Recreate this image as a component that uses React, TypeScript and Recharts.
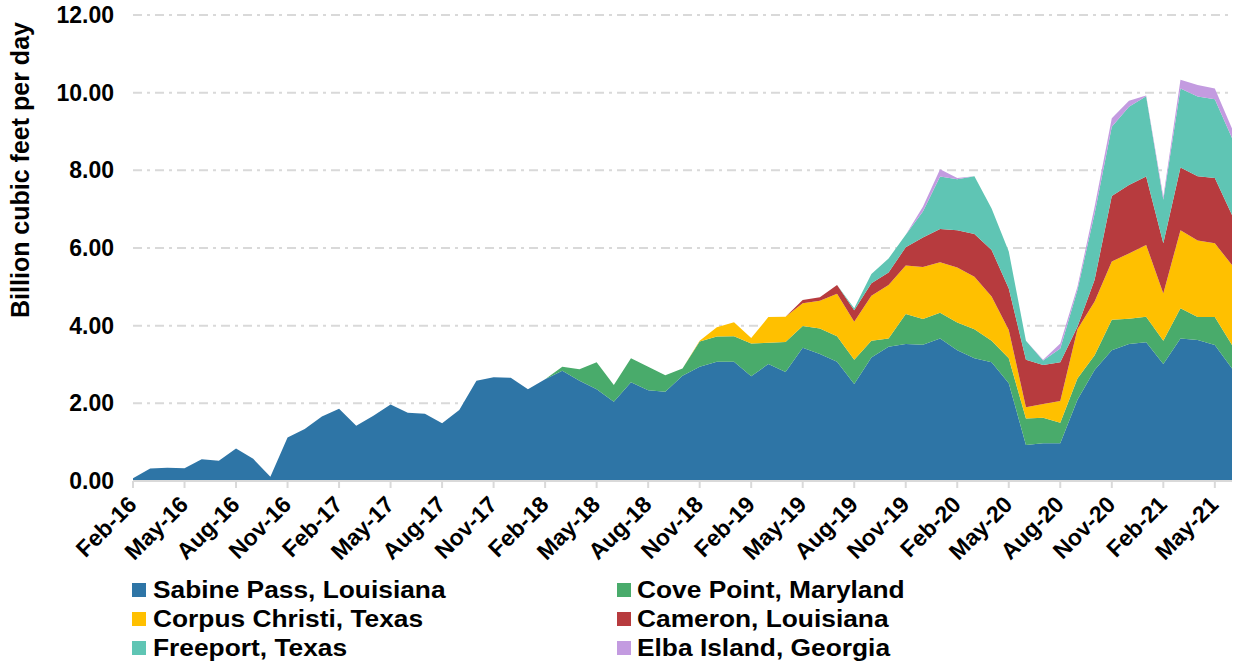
import React from "react";
import { AreaChart, Area, XAxis, YAxis, CartesianGrid, Legend } from "recharts";

const months = [
  "Feb-16","Mar-16","Apr-16","May-16","Jun-16","Jul-16","Aug-16","Sep-16","Oct-16","Nov-16","Dec-16",
  "Jan-17","Feb-17","Mar-17","Apr-17","May-17","Jun-17","Jul-17","Aug-17","Sep-17","Oct-17","Nov-17","Dec-17",
  "Jan-18","Feb-18","Mar-18","Apr-18","May-18","Jun-18","Jul-18","Aug-18","Sep-18","Oct-18","Nov-18","Dec-18",
  "Jan-19","Feb-19","Mar-19","Apr-19","May-19","Jun-19","Jul-19","Aug-19","Sep-19","Oct-19","Nov-19","Dec-19",
  "Jan-20","Feb-20","Mar-20","Apr-20","May-20","Jun-20","Jul-20","Aug-20","Sep-20","Oct-20","Nov-20","Dec-20",
  "Jan-21","Feb-21","Mar-21","Apr-21","May-21","Jun-21",
];

const sabinePass = [
  0.07,0.32,0.34,0.33,0.56,0.52,0.84,0.57,0.11,1.12,1.34,
  1.66,1.86,1.42,1.68,1.97,1.76,1.73,1.49,1.83,2.58,2.67,2.66,
  2.36,2.62,2.84,2.58,2.36,2.04,2.54,2.34,2.30,2.71,2.94,3.07,
  3.07,2.70,3.01,2.81,3.43,3.27,3.07,2.50,3.18,3.46,3.53,3.51,
  3.67,3.37,3.16,3.06,2.52,0.93,0.97,0.97,2.09,2.86,3.37,3.53,
  3.57,3.01,3.67,3.63,3.50,2.90,
];

const covePoint = [
  0,0,0,0,0,0,0,0,0,0,0,
  0,0,0,0,0,0,0,0,0,0,0,0,
  0,0,0.10,0.30,0.70,0.43,0.62,0.60,0.42,0.19,0.65,0.65,
  0.66,0.84,0.55,0.77,0.56,0.66,0.66,0.62,0.43,0.21,0.77,0.66,
  0.66,0.71,0.75,0.55,0.64,0.68,0.66,0.53,0.55,0.38,0.78,0.65,
  0.66,0.60,0.78,0.59,0.72,0.60,
];

const corpusChristi = [
  0,0,0,0,0,0,0,0,0,0,0,
  0,0,0,0,0,0,0,0,0,0,0,0,
  0,0,0,0,0,0,0,0,0,0,0.02,0.24,
  0.36,0.14,0.66,0.65,0.59,0.71,1.09,0.98,1.16,1.38,1.25,1.34,
  1.30,1.42,1.35,1.14,0.73,0.29,0.35,0.56,1.27,1.38,1.50,1.68,
  1.85,1.22,2.01,1.97,1.90,2.06,
];

const cameron = [
  0,0,0,0,0,0,0,0,0,0,0,
  0,0,0,0,0,0,0,0,0,0,0,0,
  0,0,0,0,0,0,0,0,0,0,0,0,
  0,0,0,0,0.08,0.09,0.23,0.30,0.32,0.32,0.47,0.76,
  0.86,0.96,1.10,1.20,1.07,1.22,1.01,1.00,0.06,0.56,1.69,1.76,
  1.76,1.29,1.61,1.66,1.68,1.29,
];

const freeport = [
  0,0,0,0,0,0,0,0,0,0,0,
  0,0,0,0,0,0,0,0,0,0,0,0,
  0,0,0,0,0,0,0,0,0,0,0,0,
  0,0,0,0,0,0,0,0.05,0.24,0.36,0.32,0.67,
  1.35,1.31,1.49,1.07,0.95,0.49,0.11,0.35,0.95,1.71,1.78,2.02,
  2.07,1.12,2.04,2.05,2.03,1.98,
];

const elbaIsland = [
  0,0,0,0,0,0,0,0,0,0,0,
  0,0,0,0,0,0,0,0,0,0,0,0,
  0,0,0,0,0,0,0,0,0,0,0,0,
  0,0,0,0,0,0,0,0,0,0,0,0.12,
  0.19,0.03,0,0,0,0,0.02,0.13,0.08,0.17,0.22,0.15,
  0.02,0.08,0.22,0.30,0.28,0.25,
];

const yTicks = [0, 2, 4, 6, 8, 10, 12];

const seriesNames = [
  "Sabine Pass, Louisiana",
  "Cove Point, Maryland",
  "Corpus Christi, Texas",
  "Cameron, Louisiana",
  "Freeport, Texas",
  "Elba Island, Georgia",
];
const seriesKeys = ["sabine", "cove", "corpus", "cameron", "freeport", "elba"];
const seriesColors = ["#2E75A6", "#49AB6B", "#FFC000", "#B73B3E", "#5FC5B4", "#C39BE0"];
const seriesValues = [sabinePass, covePoint, corpusChristi, cameron, freeport, elbaIsland];

const data = months.map((m, i) => {
  const row: Record<string, any> = { month: m };
  seriesKeys.forEach((k, s) => {
    row[k] = seriesValues[s][i];
  });
  return row;
});

const FONT = '"Liberation Sans", Arial, Helvetica, sans-serif';

const XTick = (props: any) => {
  const { x, payload } = props;
  const ax = x + 5;
  const ay = 506;
  return (
    <text
      x={ax}
      y={ay}
      textAnchor="end"
      transform={`rotate(-45 ${ax} ${ay})`}
      fontFamily={FONT}
      fontWeight="bold"
      fontSize={23}
      fill="#000"
    >
      {payload.value}
    </text>
  );
};

const YTick = (props: any) => {
  const { y, payload } = props;
  return (
    <text
      x={114}
      y={y + 8}
      textAnchor="end"
      fontFamily={FONT}
      fontWeight="bold"
      fontSize={23}
      fill="#000"
    >
      {Number(payload.value).toFixed(2)}
    </text>
  );
};

const legendOrder = [0, 1, 2, 3, 4, 5];

const LegendContent = () => {
  return (
    <div style={{ position: "relative", width: 1239, height: 95 }}>
      {legendOrder.map((s, idx) => {
        const col = idx % 2;
        const row = Math.floor(idx / 2);
        const cy = 20 + row * 29;
        const sqX = col === 0 ? 132 : 617;
        const txX = col === 0 ? 153 : 637;
        return (
          <React.Fragment key={s}>
            <div
              style={{
                position: "absolute",
                left: sqX,
                top: cy - 7,
                width: 14,
                height: 14,
                background: seriesColors[s],
              }}
            />
            <div
              style={{
                position: "absolute",
                left: txX,
                top: cy - 14,
                height: 28,
                lineHeight: "28px",
                fontFamily: FONT,
                fontWeight: "bold",
                fontSize: 23.5,
                color: "#000",
                whiteSpace: "nowrap",
                transform: "scaleX(1.12)",
                transformOrigin: "left center",
              }}
            >
              {seriesNames[s]}
            </div>
          </React.Fragment>
        );
      })}
    </div>
  );
};

export default function App() {
  return (
    <div style={{ position: "absolute", left: 0, top: 0, width: 1239, height: 665, background: "#fff" }}>
      <AreaChart
        width={1239}
        height={665}
        data={data}
        margin={{ top: 15, right: 7, left: 0, bottom: 0 }}
      >
        <CartesianGrid
          vertical={false}
          stroke="#d9d9d9"
          strokeWidth={2}
          strokeDasharray="9 5 3 5"
        />
        <XAxis
          dataKey="month"
          interval={2}
          height={184}
          tick={<XTick />}
          tickSize={7}
          tickLine={{ stroke: "#d9d9d9", strokeWidth: 2 }}
          axisLine={{ stroke: "#d9d9d9", strokeWidth: 2 }}
        />
        <YAxis
          width={133}
          domain={[0, 12]}
          ticks={yTicks}
          tick={<YTick />}
          axisLine={false}
          tickLine={false}
          label={{
            value: "Billion cubic feet per day",
            angle: -90,
            position: "insideLeft",
            content: () => (
              <text
                x={29}
                y={170}
                transform="rotate(-90 29 170)"
                textAnchor="middle"
                fontFamily={FONT}
                fontWeight="bold"
                fontSize={25}
                fill="#000"
              >
                Billion cubic feet per day
              </text>
            ),
          }}
        />
        {seriesKeys.map((k, s) => (
          <Area
            key={k}
            type="linear"
            dataKey={k}
            name={seriesNames[s]}
            stackId="1"
            fill={seriesColors[s]}
            fillOpacity={1}
            stroke="none"
            isAnimationActive={false}
            dot={false}
            activeDot={false}
          />
        ))}
        <Legend
          layout="horizontal"
          verticalAlign="middle"
          align="center"
          wrapperStyle={{ position: "absolute", top: 570, left: 0, width: 1239, height: 95 }}
          content={<LegendContent />}
        />
      </AreaChart>
    </div>
  );
}
